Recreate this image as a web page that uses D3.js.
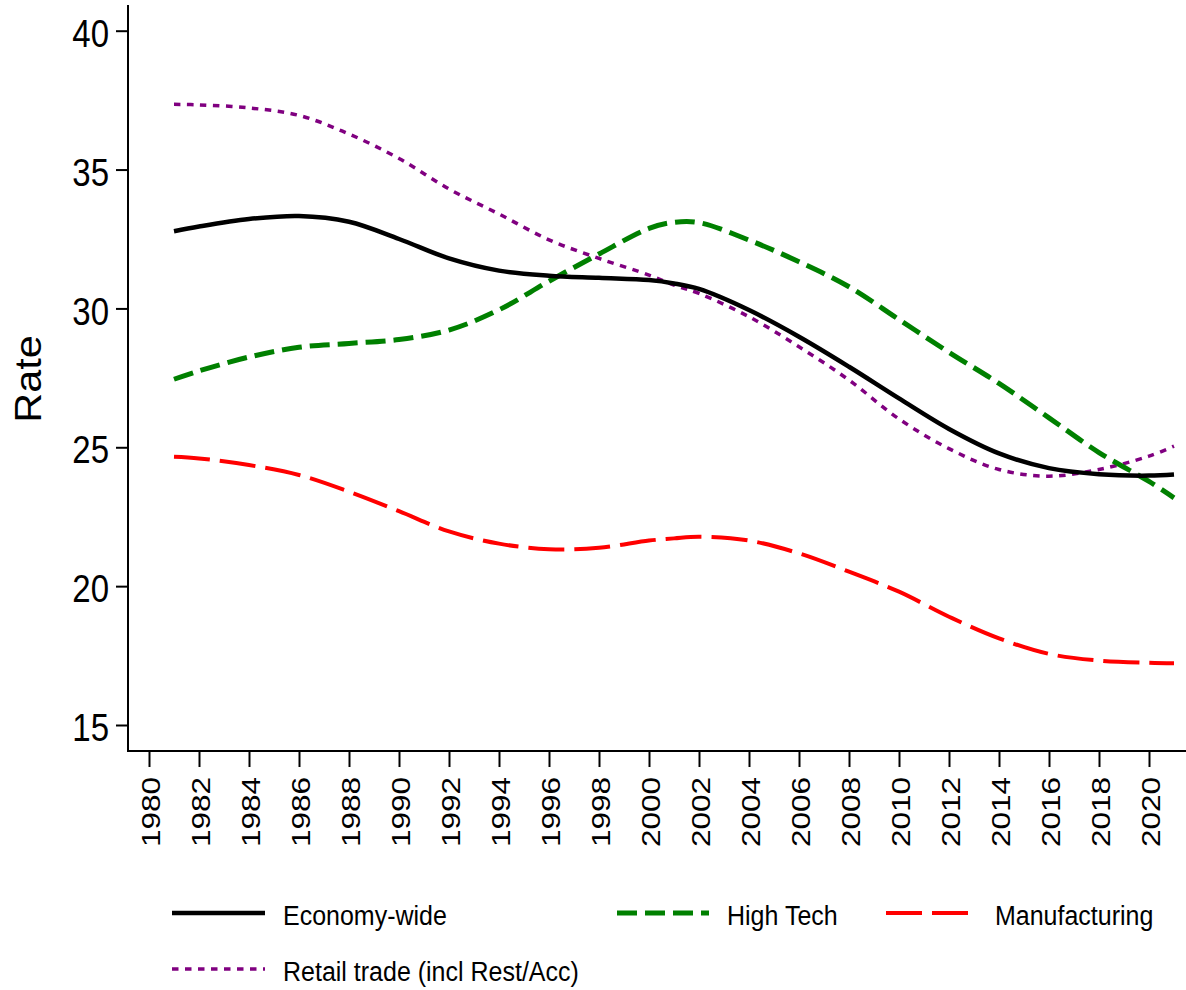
<!DOCTYPE html>
<html>
<head>
<meta charset="utf-8">
<script src="https://cdn.jsdelivr.net/npm/d3@7"></script>
<style>
  html, body { margin: 0; padding: 0; background: #fff; }
  svg { display: block; }
  text { font-family: "Liberation Sans", Arial, sans-serif; fill: #000; }
</style>
</head>
<body>
<svg id="chart" width="1186" height="990"></svg>
<script>
// Years observed (smoothed series)
const years = [1981, 1982, 1984, 1986, 1988, 1990, 1992, 1994, 1996, 1998, 2000, 2001,
               2002, 2004, 2006, 2008, 2010, 2012, 2014, 2016, 2018, 2020, 2021];

const economyWide = [32.78, 32.95, 33.22, 33.33, 33.12, 32.5, 31.8, 31.36, 31.18, 31.1, 31.02, 30.9,
                     30.7, 29.94, 28.98, 27.9, 26.76, 25.66, 24.78, 24.25, 24.03, 23.98, 24.02];
const highTech = [27.45, 27.75, 28.25, 28.6, 28.74, 28.88, 29.22, 29.95, 30.98, 31.96, 32.88, 33.1,
                  33.09, 32.46, 31.68, 30.78, 29.6, 28.42, 27.3, 26.06, 24.81, 23.77, 23.18];
const manufacturing = [24.66, 24.6, 24.36, 24.0, 23.4, 22.7, 21.97, 21.53, 21.33, 21.38, 21.64, 21.72,
                       21.78, 21.64, 21.18, 20.52, 19.8, 18.9, 18.12, 17.56, 17.32, 17.24, 17.22];
const retailTrade = [37.35, 37.33, 37.22, 36.95, 36.28, 35.4, 34.3, 33.4, 32.47, 31.8, 31.2, 30.84,
                     30.54, 29.7, 28.62, 27.42, 26.02, 24.95, 24.2, 23.96, 24.2, 24.68, 25.04];

const seriesNames = ["Economy-wide", "High Tech", "Manufacturing", "Retail trade (incl Rest/Acc)"];
const yTicks = [15, 20, 25, 30, 35, 40];
const xTicks = d3.range(1980, 2021, 2);
const yTitle = "Rate";

// Line styles per series
const styles = {
  "Economy-wide": { color: "#000000", width: 4.5, dash: null },
  "High Tech": { color: "#008000", width: 5, dash: "20 8" },
  "Manufacturing": { color: "#ff0000", width: 4, dash: "36 10" },
  "Retail trade (incl Rest/Acc)": { color: "#800080", width: 3.5, dash: "6.5 6.5" }
};

const seriesValues = {
  "Economy-wide": economyWide,
  "High Tech": highTech,
  "Manufacturing": manufacturing,
  "Retail trade (incl Rest/Acc)": retailTrade
};

const svg = d3.select("#chart");

// Plot region
const axisX = 128, axisTop = 5, axisBottom = 751, axisRight = 1186;

const x = d3.scaleLinear().domain([1980, 2020]).range([149, 1149]);
const y = d3.scaleLinear().domain([15, 40]).range([725, 30.7]);

// Axis lines
svg.append("line").attr("x1", axisX).attr("x2", axisX).attr("y1", axisTop).attr("y2", axisBottom + 1)
  .attr("stroke", "#000").attr("stroke-width", 2);
svg.append("line").attr("x1", axisX - 1).attr("x2", axisRight).attr("y1", axisBottom).attr("y2", axisBottom)
  .attr("stroke", "#000").attr("stroke-width", 2);

// Y axis ticks and labels
const yAxis = d3.axisLeft(y).tickValues(yTicks).tickSize(12).tickSizeOuter(0).tickFormat(d3.format("d"));
const gy = svg.append("g").attr("transform", `translate(${axisX},0)`).call(yAxis);
gy.select(".domain").remove();
gy.selectAll(".tick line").attr("stroke", "#000").attr("stroke-width", 2);
gy.selectAll(".tick text").remove();
gy.selectAll(".tick").append("text")
  .attr("transform", "translate(-19,0) scale(1,1.19)")
  .attr("y", 13.2)
  .attr("text-anchor", "end")
  .style("font-size", "33px")
  .text(d => d);

// X axis ticks and labels
const xAxis = d3.axisBottom(x).tickValues(xTicks).tickSize(16).tickSizeOuter(0).tickFormat(d3.format("d"));
const gx = svg.append("g").attr("transform", `translate(0,${axisBottom})`).call(xAxis);
gx.select(".domain").remove();
gx.selectAll(".tick line").attr("stroke", "#000").attr("stroke-width", 2);
gx.selectAll(".tick text").remove();
gx.selectAll(".tick").append("text")
  .attr("transform", "translate(0.5,26) scale(1,1.19) rotate(-90)")
  .attr("y", 9.5)
  .attr("text-anchor", "end")
  .style("font-size", "26.5px")
  .text(d => d);

// Y axis title
svg.append("text")
  .attr("transform", "translate(28,379) scale(1,1.12) rotate(-90)")
  .attr("y", 13.2)
  .attr("text-anchor", "middle")
  .style("font-size", "37px")
  .text(yTitle);

// Series lines
const line = d3.line()
  .x((d, i) => x(years[i]))
  .y(d => y(d))
  .curve(d3.curveCatmullRom.alpha(0.5));

const drawOrder = ["Manufacturing", "Retail trade (incl Rest/Acc)", "High Tech", "Economy-wide"];
drawOrder.forEach(name => {
  const st = styles[name];
  svg.append("path")
    .datum(seriesValues[name])
    .attr("d", line)
    .attr("fill", "none")
    .attr("stroke", st.color)
    .attr("stroke-width", st.width)
    .attr("stroke-dasharray", st.dash)
    .attr("stroke-linejoin", "round");
});

// Legend
const legendItems = [
  { name: "Economy-wide", x1: 172, x2: 265, tx: 283, cy: 913 },
  { name: "High Tech", x1: 617, x2: 709, tx: 727, cy: 913 },
  { name: "Manufacturing", x1: 886, x2: 968, tx: 995, cy: 913 },
  { name: "Retail trade (incl Rest/Acc)", x1: 172, x2: 265, tx: 283, cy: 969 }
];
const lg = svg.append("g");
legendItems.forEach(it => {
  const st = styles[it.name];
  lg.append("line")
    .attr("x1", it.x1).attr("x2", it.x2).attr("y1", it.cy).attr("y2", it.cy)
    .attr("stroke", st.color)
    .attr("stroke-width", st.width)
    .attr("stroke-dasharray", st.dash);
  lg.append("text")
    .attr("transform", `translate(${it.tx},${it.cy + 2}) scale(1,1.12)`)
    .attr("y", 9)
    .style("font-size", "25px")
    .text(it.name);
});
</script>
</body>
</html>
